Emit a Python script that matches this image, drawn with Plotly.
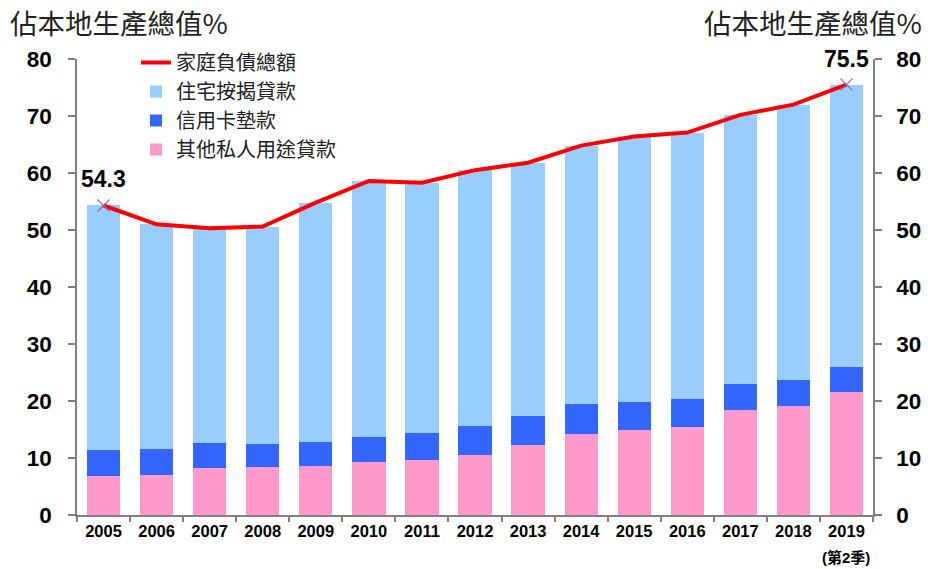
import plotly.graph_objects as go

years = ["2005", "2006", "2007", "2008", "2009", "2010", "2011", "2012",
         "2013", "2014", "2015", "2016", "2017", "2018", "2019"]
other_loans = [6.9, 7.1, 8.25, 8.4, 8.6, 9.25, 9.65, 10.5, 12.3, 14.2, 14.9, 15.5, 18.35, 19.2, 21.6]
credit_card = [4.45, 4.4, 4.35, 4.1, 4.15, 4.5, 4.75, 5.1, 5.1, 5.2, 4.9, 4.85, 4.65, 4.55, 4.3]
mortgage = [42.95, 39.5, 37.7, 38.1, 42.05, 44.85, 43.9, 44.9, 44.4, 45.4, 46.6, 46.75, 47.2, 48.25, 49.6]
household_debt = [54.3, 51.0, 50.3, 50.6, 54.8, 58.6, 58.3, 60.5, 61.8, 64.8, 66.4, 67.1, 70.2, 72.0, 75.5]
y_ticks = [0, 10, 20, 30, 40, 50, 60, 70, 80]

CJK = "Noto Sans CJK TC, Noto Sans CJK SC, sans-serif"
LAT = "Liberation Sans, Arial, Noto Sans CJK TC, sans-serif"
AXIS_GREY = "#808080"

W, H = 928, 569
ml, mr, mt, mb = 77, 55, 59, 54
pw, ph = W - ml - mr, H - mt - mb


def px2paper(px, py):
    return (px - ml) / pw, 1 - (py - mt) / ph


fig = go.Figure()
fig.add_trace(go.Bar(x=years, y=other_loans, name="其他私人用途貸款",
                     marker=dict(color="#FF99CC", line=dict(width=0)), legendrank=4))
fig.add_trace(go.Bar(x=years, y=credit_card, name="信用卡墊款",
                     marker=dict(color="#3366FF", line=dict(width=0)), legendrank=3))
fig.add_trace(go.Bar(x=years, y=mortgage, name="住宅按揭貸款",
                     marker=dict(color="#99CCFF", line=dict(width=0)), legendrank=2))
fig.add_trace(go.Scatter(x=years, y=household_debt, name="家庭負債總額", mode="lines",
                         line=dict(color="#FF0000", width=4), legendrank=1))
ends = [0, len(years) - 1]
fig.add_trace(go.Scatter(x=[years[i] for i in ends], y=[household_debt[i] for i in ends],
                         mode="markers", showlegend=False, yaxis="y2",
                         marker=dict(symbol="x-thin", size=12, color="#8E6BA8",
                                     line=dict(width=1.2, color="#8E6BA8"))))

annotations = []
for i in ends:
    annotations.append(dict(x=i, y=household_debt[i], xref="x", yref="y",
                            text=f"{household_debt[i]:.1f}", showarrow=False,
                            yshift=26, font=dict(family=LAT, size=23, color="#000", weight="bold")))
annotations.append(dict(x=len(years) - 1, y=0, xref="x", yref="y", text="(第2季)", showarrow=False,
                        yanchor="middle", yshift=-42,
                        font=dict(family=LAT, size=15, color="#000", weight="bold")))
lx, ly = px2paper(8, 22)
annotations.append(dict(x=lx, y=ly, xref="paper", yref="paper", text="佔本地生產總值%",
                        showarrow=False, xanchor="left", yanchor="middle",
                        font=dict(family=CJK, size=27.5, color="#222")))
rx, ry = px2paper(924, 22)
annotations.append(dict(x=rx, y=ry, xref="paper", yref="paper", text="佔本地生產總值%",
                        showarrow=False, xanchor="right", yanchor="middle",
                        font=dict(family=CJK, size=27.5, color="#222")))

lgx, lgy = px2paper(136, 43)
fig.update_layout(
    width=W, height=H,
    margin=dict(l=ml, r=mr, t=mt, b=mb, autoexpand=False),
    paper_bgcolor="white", plot_bgcolor="white",
    barmode="stack", bargap=0.373,
    annotations=annotations,
    legend=dict(x=lgx, y=lgy, xanchor="left", yanchor="top", traceorder="normal",
                bgcolor="rgba(0,0,0,0)", font=dict(family=CJK, size=20, color="#222"),
                tracegroupgap=0, itemwidth=30),
    xaxis=dict(type="category", range=[-0.5, len(years) - 0.5], autorange=False,
               automargin=False,
               showline=True, linecolor=AXIS_GREY, linewidth=1.5,
               ticks="outside", tickson="boundaries", ticklen=5, tickcolor=AXIS_GREY,
               tickwidth=1.5, showgrid=False, zeroline=False, tickangle=0,
               tickfont=dict(family=LAT, size=16.5, color="#000", weight="bold")),
    yaxis=dict(range=[0, 80], autorange=False, tickvals=y_ticks, showline=True,
               automargin=False,
               linecolor=AXIS_GREY, linewidth=1.5, ticks="outside", ticklen=7,
               tickcolor=AXIS_GREY, tickwidth=1.5,
               showgrid=False, zeroline=False, ticklabelstandoff=12,
               tickfont=dict(family=LAT, size=22.5, color="#000", weight="bold")),
    yaxis2=dict(range=[0, 80], autorange=False, tickvals=y_ticks, overlaying="y", side="right",
                automargin=False,
                showline=True, linecolor=AXIS_GREY, linewidth=1.5, ticks="outside",
                ticklen=7, tickcolor=AXIS_GREY, tickwidth=1.5, showgrid=False,
                zeroline=False, ticklabelstandoff=10,
                tickfont=dict(family=LAT, size=22.5, color="#000", weight="bold")),
)
fig.write_html("out.html", config={"displayModeBar": False},
               post_script="document.body.style.margin='0';document.body.style.overflow='hidden';")
